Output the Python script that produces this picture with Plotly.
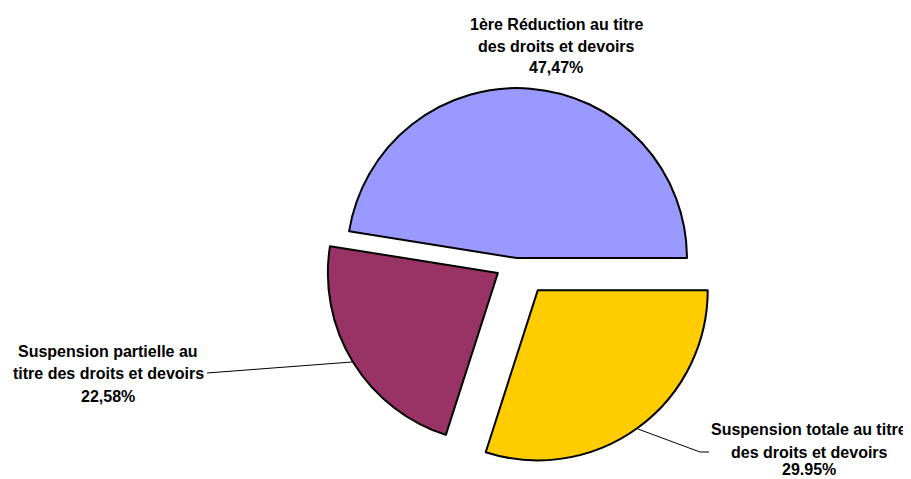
import plotly.graph_objects as go

labels = ["1ère Réduction au titre des droits et devoirs",
          "Suspension partielle au titre des droits et devoirs",
          "Suspension totale au titre des droits et devoirs"]
values = [47.47, 22.58, 29.95]
value_texts = ["47,47%", "22,58%", "29.95%"]
label_lines = [["1ère Réduction au titre", "des droits et devoirs"],
               ["Suspension partielle au", "titre des droits et devoirs"],
               ["Suspension totale au titre", "des droits et devoirs"]]
colors = ["#9999FF", "#993366", "#FFCC00"]
pulls = [0.02, 0.13, 0.21]

# page has an 8px body margin: figure is drawn at offset (8, 8)
OFF = 8
W, H = 911 - OFF, 479 - OFF

def P(px, py):
    """target-page pixel -> paper coords"""
    return (px - OFF) / W, 1 - (py - OFF) / H

# pie centre (page px) and needed half-size (radius * (1 + max pull))
cx, cy, half = 516.7, 261.5, 170 * (1 + max(pulls))
x0, y1 = P(cx - half, cy - half)
x1, y0 = P(cx + half, cy + half)

# first slice begins at 3 o'clock and runs counterclockwise
rotation = 90 - 360 * values[0] / sum(values)

fig = go.Figure(go.Pie(
    labels=labels, values=values, sort=False, direction="counterclockwise",
    rotation=rotation, pull=pulls, textinfo="none", hoverinfo="label+percent",
    marker=dict(colors=colors, line=dict(color="black", width=2)),
    domain=dict(x=[x0, x1], y=[y0, y1]),
    showlegend=False,
))

# label positions (page-pixel centres of each text line)
label_pos = [(556, [25, 47, 68]), (108, [351, 373, 396]), (809, [429, 452, 469])]
anns = []
for (lx, ys), lines, vt in zip(label_pos, label_lines, value_texts):
    for t, yy in zip(lines + [vt], ys):
        ax, ay = P(lx, yy)
        anns.append(dict(x=ax, y=ay, xref="paper", yref="paper",
                         text="<b>" + t + "</b>", showarrow=False,
                         xanchor="center", yanchor="middle",
                         font=dict(family="Arial, Liberation Sans, sans-serif", size=16,
                                   color="black")))

shapes = []
for seg in [[(207, 373), (352, 362)], [(638, 429), (700, 452)], [(700, 452), (709, 452)]]:
    (sx0, sy0), (sx1, sy1) = P(*seg[0]), P(*seg[1])
    shapes.append(dict(type="line", xref="paper", yref="paper",
                       x0=sx0, y0=sy0, x1=sx1, y1=sy1,
                       line=dict(color="black", width=1)))

fig.update_layout(width=W, height=H, margin=dict(l=0, r=0, t=0, b=0),
                  paper_bgcolor="white", plot_bgcolor="white",
                  annotations=anns, shapes=shapes)
fig.write_html("out.html")
